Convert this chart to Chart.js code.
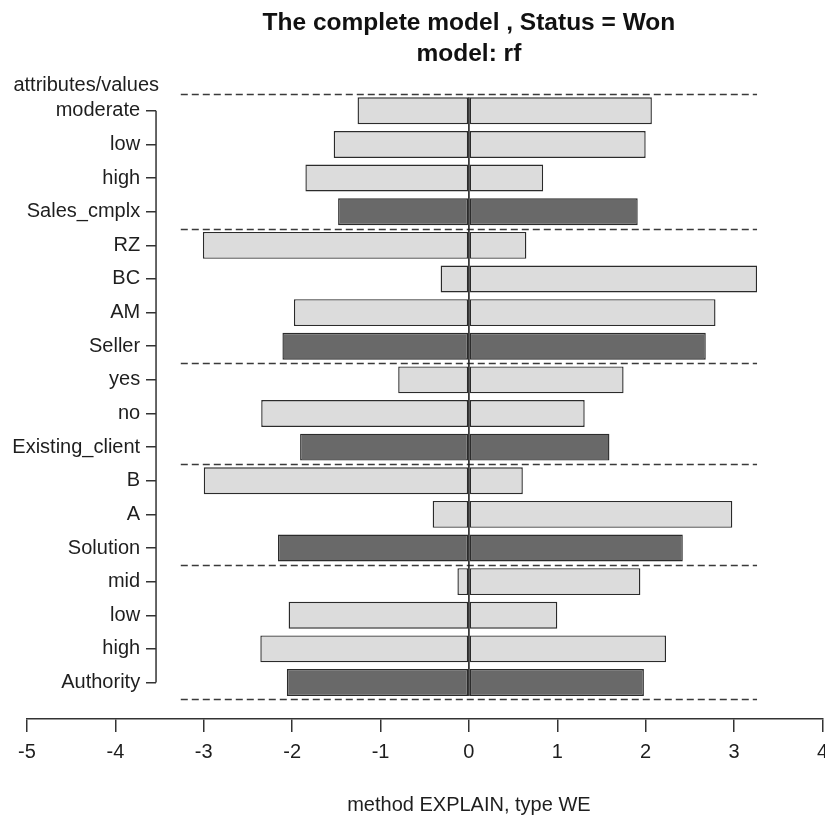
<!DOCTYPE html>
<html>
<head>
<meta charset="utf-8">
<title>The complete model , Status = Won</title>
<script src="https://cdn.jsdelivr.net/npm/chart.js@4.4.1/dist/chart.umd.min.js"></script>
<style>
  html, body { margin: 0; padding: 0; background: #fff; overflow: hidden; }
  /* the plot runs a few pixels past the right edge, like the cropped original */
  #wrap { width: 836px; height: 819px; position: relative; }
</style>
</head>
<body>
<div id="wrap"><canvas id="weChart"></canvas></div>
<script>
// rows top to bottom; an 'attribute' row holds the summed evidence of the values above it
const rowLabels = ['moderate', 'low', 'high', 'Sales_cmplx', 'RZ', 'BC', 'AM', 'Seller', 'yes', 'no',
  'Existing_client', 'B', 'A', 'Solution', 'mid', 'low', 'high', 'Authority'];
const rowKinds = ['value', 'value', 'value', 'attribute', 'value', 'value', 'value', 'attribute', 'value', 'value',
  'attribute', 'value', 'value', 'attribute', 'value', 'value', 'value', 'attribute'];
const negativeWE = [-1.26, -1.53, -1.85, -1.48, -3.01, -0.32, -1.98, -2.11, -0.80, -2.35,
  -1.91, -3.00, -0.41, -2.16, -0.13, -2.04, -2.36, -2.06];
const positiveWE = [2.07, 2.00, 0.84, 1.91, 0.65, 3.26, 2.79, 2.68, 1.75, 1.31,
  1.59, 0.61, 2.98, 2.42, 1.94, 1.00, 2.23, 1.98];
const xTicks = [-5, -4, -3, -2, -1, 0, 1, 2, 3, 4];
const titleLines = ['The complete model , Status = Won', 'model: rf'];
const headerLabel = 'attributes/values';
const xAxisTitle = 'method EXPLAIN, type WE';

const FONT = '"Liberation Sans", Arial, Helvetica, sans-serif';
const LIGHT = '#dcdcdc';
const DARK = '#696969';
const INK = '#1e1e1e';
const yAxisAt = -3.54;  // where the attribute axis crosses the WE axis
const yLabelAt = -3.72; // right edge of the attribute labels

Chart.defaults.font.family = FONT;
Chart.defaults.color = INK;

const n = rowLabels.length;
const rowPos = i => n - i;   // first row on top
const fills = rowKinds.map(k => k === 'attribute' ? DARK : LIGHT);

// dashed separators: above the first row and below every attribute row
const separators = [n + 0.5];
rowKinds.forEach((k, i) => { if (k === 'attribute') separators.push(rowPos(i) - 0.5); });
const reach = Math.max(...negativeWE.map(Math.abs), ...positiveWE);

const explainExtras = {
  id: 'explainExtras',
  beforeDatasetsDraw(chart) {
    const { ctx, scales: { x, y } } = chart;
    ctx.save();
    ctx.strokeStyle = '#3a3a3a';
    ctx.lineWidth = 1.5;
    ctx.setLineDash([7, 4]);
    separators.forEach(v => {
      const py = Math.round(y.getPixelForValue(v)) + 0.5;
      ctx.beginPath();
      ctx.moveTo(x.getPixelForValue(-reach), py);
      ctx.lineTo(x.getPixelForValue(reach), py);
      ctx.stroke();
    });
    ctx.restore();
  },
  afterDatasetsDraw(chart) {
    // zero line running through all bars
    const { ctx, scales: { x } } = chart;
    const bars = chart.getDatasetMeta(0).data;
    const top = bars[0].y - bars[0].height / 2;
    const last = bars[bars.length - 1];
    const bottom = last.y + last.height / 2;
    const px = x.getPixelForValue(0);
    ctx.save();
    ctx.strokeStyle = '#222';
    ctx.lineWidth = 1.6;
    ctx.beginPath();
    ctx.moveTo(px, top);
    ctx.lineTo(px, bottom);
    ctx.stroke();
    ctx.restore();
  },
  afterDraw(chart) {
    const { ctx, chartArea, scales: { x, y } } = chart;
    const ax = x.getPixelForValue(yAxisAt);
    const mid = x.getPixelForValue(0);
    ctx.save();
    // attribute axis line, only between first and last tick
    ctx.strokeStyle = '#333';
    ctx.lineWidth = 1.5;
    ctx.beginPath();
    ctx.moveTo(ax, y.getPixelForValue(n));
    ctx.lineTo(ax, y.getPixelForValue(1));
    ctx.stroke();

    ctx.fillStyle = INK;
    ctx.textBaseline = 'middle';
    ctx.font = '20px ' + FONT;
    ctx.textAlign = 'right';
    ctx.fillText(headerLabel, ax + 3, y.getPixelForValue(n + 0.74));

    ctx.textAlign = 'center';
    ctx.fillText(xAxisTitle, mid, chartArea.bottom + 86);

    ctx.fillStyle = '#111';
    ctx.font = 'bold 24.5px ' + FONT;
    ctx.fillText(titleLines[0], mid, chartArea.top - 71);
    ctx.fillText(titleLines[1], mid, chartArea.top - 40);
    ctx.restore();
  }
};

const yShared = {
  type: 'linear',
  min: -0.085,
  max: n + 0.5,
  offset: false,
  afterBuildTicks: s => { s.ticks = rowLabels.map((_, i) => ({ value: rowPos(i) })); },
  border: { display: false }
};

new Chart(document.getElementById('weChart'), {
  type: 'bar',
  data: {
    datasets: [
      {
        label: 'against',
        data: negativeWE.map((v, i) => ({ x: v, y: rowPos(i) })),
        backgroundColor: fills,
        borderColor: '#2b2b2b',
        borderWidth: 1.4,
        borderSkipped: false,
        grouped: false,
        categoryPercentage: 1,
        barPercentage: 0.8
      },
      {
        label: 'for',
        data: positiveWE.map((v, i) => ({ x: v, y: rowPos(i) })),
        backgroundColor: fills,
        borderColor: '#2b2b2b',
        borderWidth: 1.4,
        borderSkipped: false,
        grouped: false,
        categoryPercentage: 1,
        barPercentage: 0.8
      }
    ]
  },
  options: {
    indexAxis: 'y',
    responsive: true,
    maintainAspectRatio: false,
    animation: false,
    layout: { padding: { top: 94, left: 27, right: 0, bottom: 47 } },
    plugins: {
      legend: { display: false },
      tooltip: { enabled: false }
    },
    scales: {
      x: {
        type: 'linear',
        min: -5,
        max: 4,
        afterBuildTicks: s => { s.ticks = xTicks.map(v => ({ value: v })); },
        ticks: { font: { size: 20 }, color: INK, padding: 8 },
        grid: { drawOnChartArea: false, tickLength: 13, color: '#333', lineWidth: 1.5 },
        border: { display: true, color: '#333', width: 1.5 }
      },
      y: Object.assign({}, yShared, {
        position: { x: yAxisAt },
        ticks: { display: false },
        grid: { drawOnChartArea: false, offset: false, tickLength: 10, color: '#333', lineWidth: 1.5 }
      }),
      yl: Object.assign({}, yShared, {
        position: { x: yLabelAt },
        ticks: { font: { size: 20 }, color: INK, autoSkip: false, callback: v => rowLabels[n - v] },
        grid: { display: false }
      })
    }
  },
  plugins: [explainExtras]
});
</script>
</body>
</html>
